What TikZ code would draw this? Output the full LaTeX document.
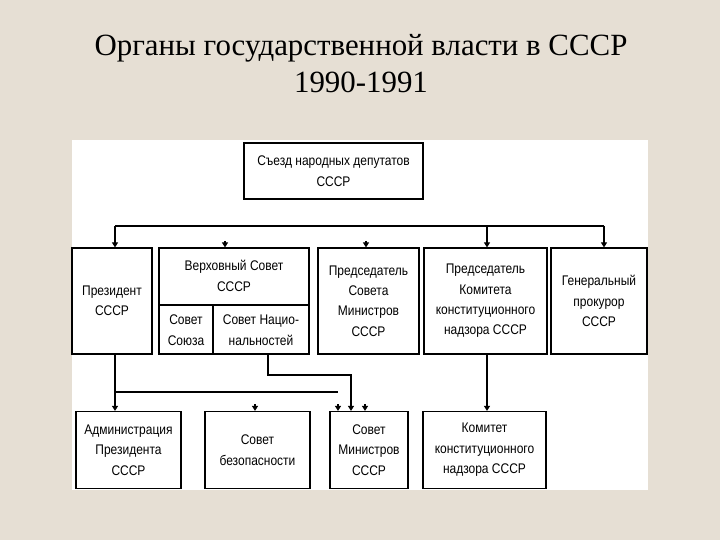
\documentclass[tikz,border=0pt]{standalone}
\usepackage{fontspec}
\setmainfont{Liberation Serif}
\newfontfamily\boxfont[FakeStretch=0.86]{Liberation Sans}
\usetikzlibrary{arrows.meta}
\definecolor{bgc}{HTML}{E6DFD4}
\tikzset{
  box/.style={draw=black, line width=1.2bp, fill=white, inner sep=0pt, align=center,
    font=\boxfont\fontsize{14}{20.5}\selectfont},
  cell/.style={inner sep=0pt, align=center, font=\boxfont\fontsize{14}{20.5}\selectfont},
  conn/.style={draw=black, line width=1.1bp},
  arr/.style={conn, -{Triangle[length=5bp,width=6bp]}},
  ttl/.style={font=\fontsize{31}{37}\selectfont, anchor=base, inner sep=0pt},
}
\begin{document}
\begin{tikzpicture}[x={(1bp,0)}, y={(0,-1bp)}]
\useasboundingbox (0,0) rectangle (720,540);
\fill[bgc] (0,0) rectangle (720,540);
\fill[white] (72,140) rectangle (648,490);
% title
\node[ttl] (title1) at (361,56) {Органы государственной власти в СССР};
\node[ttl] (title2) at (361,93) {1990-1991};
% top box
\node[box, minimum width=179bp, minimum height=56bp] (s) at (333.5,171) {Съезд народных депутатов\\СССР};
% row 2
\node[box, minimum width=80bp, minimum height=106bp] (pres) at (112,301) {Президент\\СССР};
\node[box, minimum width=150bp, minimum height=106bp] (vs) at (234,301) {};
\node[cell] (vst) at (234,276) {Верховный Совет\\СССР};
\coordinate (vsm) at (159,305);
\coordinate (vsmr) at (309,305);
\draw[conn] (vsm) -- (vsmr);
\coordinate (vsd) at (213,305);
\draw[conn] (vsd) -- (vsd |- vs.south);
\node[cell] (ss) at (186,330) {Совет\\Союза};
\node[cell] (sn) at (261,330) {Совет Нацио-\\нальностей};
\node[box, minimum width=101bp, minimum height=106bp] (psm) at (368.5,301) {Председатель\\Совета\\Министров\\СССР};
\node[box, minimum width=123bp, minimum height=106bp] (pkn) at (485.5,301) {Председатель\\Комитета\\конституционного\\надзора СССР};
\node[box, minimum width=96bp, minimum height=106bp] (gp) at (599,301) {Генеральный\\прокурор\\СССР};
% row 3
\node[box, minimum width=105bp, minimum height=77bp] (adm) at (128.5,450) {Администрация\\Президента\\СССР};
\node[box, minimum width=105bp, minimum height=77bp] (sb) at (257.5,450) {Совет\\безопасности};
\node[box, minimum width=78bp, minimum height=77bp] (sm) at (369,450) {Совет\\Министров\\СССР};
\node[box, minimum width=123bp, minimum height=77bp] (kkn) at (484.5,450) {Комитет\\конституционного\\надзора СССР};
% top distribution line
\coordinate (tl) at (115,226);
\coordinate (tm) at (487,226);
\coordinate (tr) at (604,226);
\draw[conn] (tl) -- (tr);
\draw[arr] (tl) -- (tl |- pres.north);
\draw[arr] (tm) -- (tm |- pkn.north);
\draw[arr] (tr) -- (tr |- gp.north);
% floating arrowheads
\coordinate (fa1) at (225,241);
\coordinate (fa2) at (366,241);
\draw[arr] (fa1) -- (fa1 |- vs.north);
\draw[arr] (fa2) -- (fa2 |- psm.north);
% row 2 -> row 3
\coordinate (pl) at (115,354);
\draw[arr] (pl) -- (pl |- adm.north);
\coordinate (vb) at (268,354);
\coordinate (vb2) at (268,375);
\coordinate (vb3) at (351,375);
\draw[arr] (vb) -- (vb2) -- (vb3) -- (vb3 |- sm.north);
\coordinate (ml) at (115,392);
\coordinate (mr) at (338,392);
\draw[conn] (ml) -- (mr);
\coordinate (fa3) at (255,404);
\coordinate (fa4) at (338,404);
\coordinate (fa5) at (365,404);
\draw[arr] (fa3) -- (fa3 |- sb.north);
\draw[arr] (fa4) -- (fa4 |- sm.north);
\draw[arr] (fa5) -- (fa5 |- sm.north);
\coordinate (kb) at (487,354);
\draw[arr] (kb) -- (kb |- kkn.north);
\end{tikzpicture}
\end{document}
